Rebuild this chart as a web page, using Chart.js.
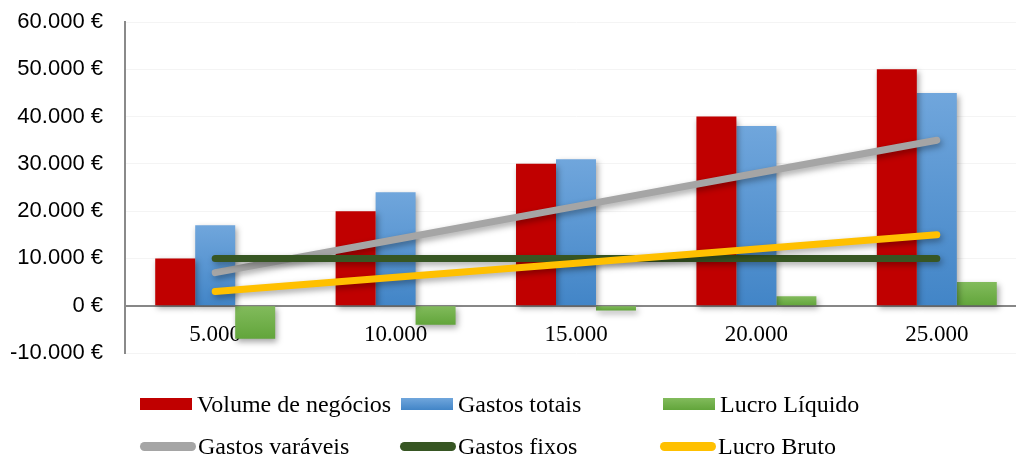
<!DOCTYPE html>
<html>
<head>
<meta charset="utf-8">
<script src="https://cdn.jsdelivr.net/npm/chart.js@4/dist/chart.umd.min.js"></script>
<style>
  html, body { margin: 0; padding: 0; background: #fff; overflow: hidden; width: 1016px; height: 456px; }
  #wrap { position: absolute; left: 0; top: 0; width: 1040px; height: 370px; }
  #legend { position: absolute; left: 0; top: 0; width: 1016px; height: 456px; pointer-events: none;
            font-family: "Liberation Serif", "Times New Roman", serif; font-size: 24px; color: #000; }
  .item { position: absolute; white-space: nowrap; display: flex; align-items: center; }
  .sw-bar { width: 52px; height: 12px; margin-right: 5px; }
  .sw-line { width: 56px; height: 9px; border-radius: 4.5px; margin-right: 2px; }
</style>
</head>
<body>
<div id="wrap"><canvas id="c"></canvas></div>
<div id="legend"></div>
<script>
// Volume (units sold) on the category axis
const categories = ['5.000', '10.000', '15.000', '20.000', '25.000'];

// Bar series (€)
const volumeNegocios = [10000, 20000, 30000, 40000, 50000];
const gastosTotais   = [17000, 24000, 31000, 38000, 45000];
const lucroLiquido   = [-7000, -4000, -1000, 2000, 5000];

// Line series (€)
const gastosVariaveis = [7000, 14000, 21000, 28000, 35000];
const gastosFixos     = [10000, 10000, 10000, 10000, 10000];
const lucroBruto      = [3000, 6000, 9000, 12000, 15000];

// Value axis range
const yMin = -10000, yMax = 60000, yStep = 10000;

// Vertical gradient spanning each individual bar
function barGradient(top, bottom) {
  return function (ctx) {
    const chart = ctx.chart;
    const y = chart.scales.y;
    if (!y || ctx.raw === undefined || ctx.raw === null) return bottom;
    const v = ctx.raw;
    const y0 = y.getPixelForValue(Math.max(v, 0));
    const y1 = y.getPixelForValue(Math.min(v, 0));
    if (!isFinite(y0) || !isFinite(y1) || y0 === y1) return bottom;
    const g = chart.ctx.createLinearGradient(0, y0, 0, y1);
    g.addColorStop(0, top);
    g.addColorStop(1, bottom);
    return g;
  };
}

const fmtEuro = v => (v === 0 ? '0' : (v < 0 ? '-' : '') +
  Math.abs(v).toString().replace(/\B(?=(\d{3})+(?!\d))/g, '.')) + ' €';

// Soft drop shadow behind bars and lines
const shadowPlugin = {
  id: 'softShadow',
  beforeDatasetsDraw(chart) {
    const c = chart.ctx;
    c.save();
    c.shadowColor = 'rgba(0,0,0,0.35)';
    c.shadowBlur = 6;
    c.shadowOffsetX = 2;
    c.shadowOffsetY = 3;
  },
  afterDatasetsDraw(chart) { chart.ctx.restore(); }
};

const lineBase = {
  type: 'line', borderWidth: 7, pointRadius: 0, pointHoverRadius: 0,
  borderCapStyle: 'round', borderJoinStyle: 'round', tension: 0, fill: false
};

const datasets = [
  { type: 'bar', label: 'Volume de negócios', data: volumeNegocios,
    backgroundColor: '#C00000', legendColor: '#C00000', order: 10 },
  { type: 'bar', label: 'Gastos totais', data: gastosTotais,
    backgroundColor: barGradient('#70A6DC', '#4285C7'),
    legendColor: 'linear-gradient(#70A6DC,#4285C7)', order: 10 },
  { type: 'bar', label: 'Lucro Líquido', data: lucroLiquido,
    backgroundColor: barGradient('#82BB5C', '#62A53B'),
    legendColor: 'linear-gradient(#82BB5C,#62A53B)', order: 10 },
  Object.assign({}, lineBase, { label: 'Gastos varáveis', data: gastosVariaveis,
    borderColor: '#A5A5A5', legendColor: '#A5A5A5', order: 3 }),
  Object.assign({}, lineBase, { label: 'Gastos fixos', data: gastosFixos,
    borderColor: '#375623', legendColor: '#375623', order: 2 }),
  Object.assign({}, lineBase, { label: 'Lucro Bruto', data: lucroBruto,
    borderColor: '#FFC000', legendColor: '#FFC000', order: 1 })
];

const chart = new Chart(document.getElementById('c'), {
  type: 'bar',
  data: { labels: categories, datasets },
  plugins: [shadowPlugin],
  options: {
    responsive: true,
    maintainAspectRatio: false,
    animation: false,
    devicePixelRatio: 1,
    layout: { padding: { top: 22, right: 13, bottom: 17, left: 0 } },
    datasets: { bar: { categoryPercentage: 0.665, barPercentage: 1.0 } },
    plugins: { legend: { display: false }, tooltip: { enabled: false } },
    scales: {
      x: {
        position: { y: 0 },
        offset: true,
        afterFit(scale) { scale.height = 0; },
        grid: { display: false, drawTicks: false },
        border: { display: true, color: '#878787', width: 2 },
        ticks: {
          padding: 15,
          color: '#000',
          font: { family: '"Liberation Serif", "Times New Roman", serif', size: 23 }
        }
      },
      y: {
        min: yMin, max: yMax,
        afterFit(scale) { scale.width = 125; },
        grid: { color: '#F4F4F4', lineWidth: 1, drawTicks: true, tickLength: 22, tickColor: 'rgba(0,0,0,0)' },
        border: { display: true, color: '#8A8A8A', width: 2 },
        ticks: {
          stepSize: yStep,
          padding: 0,
          color: '#000',
          font: { family: '"Liberation Sans", Arial, sans-serif', size: 22 },
          callback: v => fmtEuro(v)
        }
      }
    }
  }
});

// Legend laid out in a 3-column, 2-row grid below the plot
const legendSlots = [
  { x: 140, y: 404 }, { x: 401, y: 404 }, { x: 663, y: 404 },
  { x: 140, y: 446 }, { x: 400, y: 446 }, { x: 660, y: 446 }
];
const legendEl = document.getElementById('legend');
chart.data.datasets.forEach((ds, i) => {
  const slot = legendSlots[i];
  const item = document.createElement('div');
  item.className = 'item';
  item.style.left = slot.x + 'px';
  item.style.top = (slot.y - 15) + 'px';
  item.style.height = '30px';
  const sw = document.createElement('span');
  sw.className = ds.type === 'line' ? 'sw-line' : 'sw-bar';
  sw.style.background = ds.legendColor;
  const tx = document.createElement('span');
  tx.textContent = ds.label;
  item.appendChild(sw);
  item.appendChild(tx);
  legendEl.appendChild(item);
});
</script>
</body>
</html>
